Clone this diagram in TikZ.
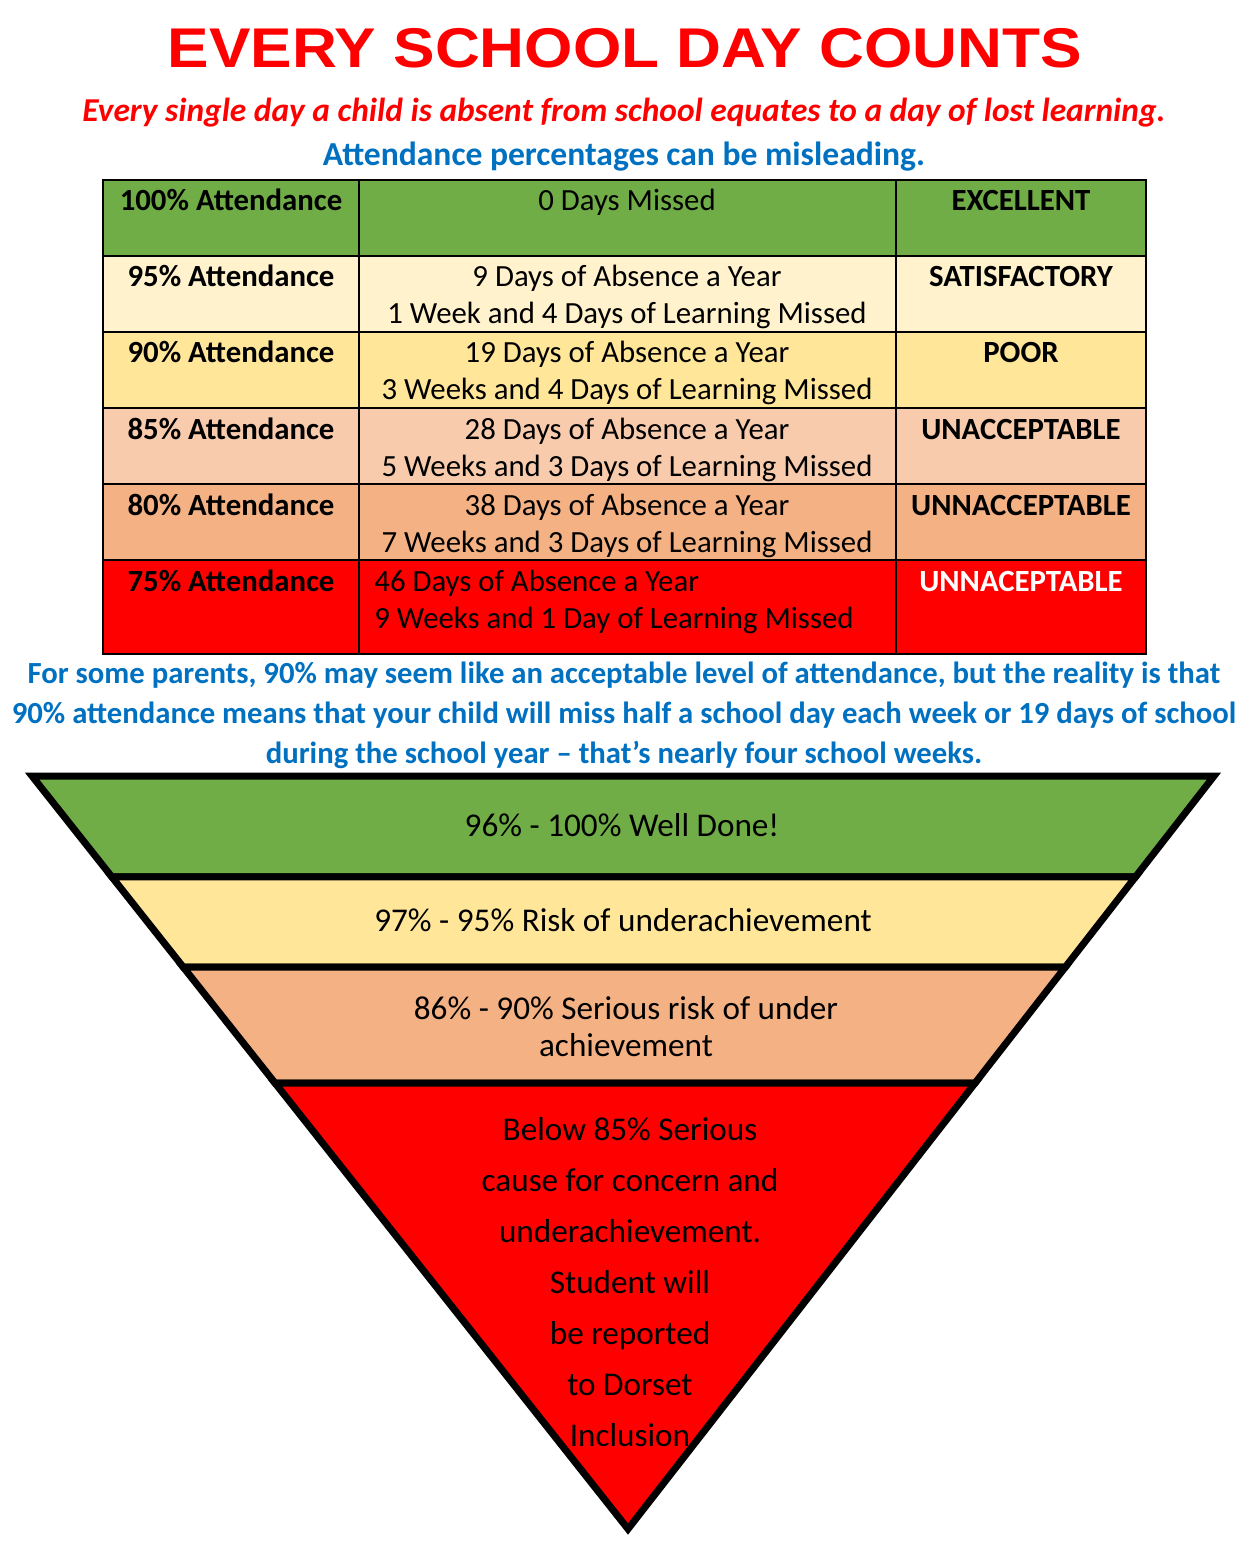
\documentclass[tikz,border=0pt]{standalone}
\usepackage{fontspec}
\setmainfont{Carlito}
\newfontfamily\headfont{Liberation Sans}
\usetikzlibrary{calc,positioning}
\definecolor{hdred}{HTML}{FF0000}
\definecolor{txtblue}{HTML}{0070C0}
\definecolor{rowgreen}{HTML}{70AD47}
\definecolor{rowcream}{HTML}{FFF2CC}
\definecolor{rowyellow}{HTML}{FFE699}
\definecolor{rowpeach}{HTML}{F8CBAD}
\definecolor{roworange}{HTML}{F4B183}
\tikzstyle{cell}=[inner sep=0pt, anchor=base, font=\fontsize{15.4}{18}\selectfont]
\tikzstyle{bcell}=[cell, font=\fontsize{15.4}{18}\selectfont\bfseries]
\tikzstyle{para}=[inner sep=0pt, anchor=base, text=txtblue, font=\fontsize{15.35}{18}\selectfont\bfseries]
\tikzstyle{band}=[draw=black, line width=3.5pt]
\tikzstyle{ptext}=[inner sep=0pt, anchor=base, font=\fontsize{16.6}{20}\selectfont]

\begin{document}
\begin{tikzpicture}[x=0.5pt, y=-0.5pt]
	\useasboundingbox (0,0) rectangle (1250,1551);
	% headings
	\node[inner sep=0pt, anchor=base, text=hdred, font=\headfont\bfseries\fontsize{28}{34}\selectfont] (title) at (625,68) {\scalebox{1.11}[1]{EVERY SCHOOL DAY COUNTS}};
	\node[inner sep=0pt, anchor=base, text=hdred, font=\fontsize{16.7}{20}\selectfont\bfseries\itshape] (sub) at (624,122) {Every single day a child is absent from school equates to a day of lost learning.};
	\node[inner sep=0pt, anchor=base, text=txtblue, font=\fontsize{16.8}{20}\selectfont\bfseries] (mis) at (624,166) {Attendance percentages can be misleading.};
	% table
	\fill[rowgreen] (103,180) rectangle (1146,256);
	\fill[rowcream] (103,256) rectangle (1146,332);
	\fill[rowyellow] (103,332) rectangle (1146,408);
	\fill[rowpeach] (103,408) rectangle (1146,484);
	\fill[roworange] (103,484) rectangle (1146,560);
	\fill[hdred] (103,560) rectangle (1146,654);
	\draw[line width=1pt] (103,180) rectangle (1146,654);
	\foreach \y in {256,332,408,484,560}
		\draw[line width=1pt] (103,\y) -- (1146,\y);
	\draw[line width=1pt] (359,180) -- (359,654);
	\draw[line width=1pt] (896,180) -- (896,654);
	\node[bcell] (a1) at (231,211) {100\% Attendance};
	\node[cell] (b1) at (627,211) {0 Days Missed};
	\node[bcell] (c1) at (1021,211) {EXCELLENT};
	\node[bcell] (a2) at (231,287) {95\% Attendance};
	\node[cell] (b2) at (627,287) {9 Days of Absence a Year};
	\node[cell] (b2x) at (627,324) {1 Week and 4 Days of Learning Missed};
	\node[bcell] (c2) at (1021,287) {SATISFACTORY};
	\node[bcell] (a3) at (231,363) {90\% Attendance};
	\node[cell] (b3) at (627,363) {19 Days of Absence a Year};
	\node[cell] (b3x) at (627,400) {3 Weeks and 4 Days of Learning Missed};
	\node[bcell] (c3) at (1021,363) {POOR};
	\node[bcell] (a4) at (231,439) {85\% Attendance};
	\node[cell] (b4) at (627,439) {28 Days of Absence a Year};
	\node[cell] (b4x) at (627,476) {5 Weeks and 3 Days of Learning Missed};
	\node[bcell] (c4) at (1021,439) {UNACCEPTABLE};
	\node[bcell] (a5) at (231,515) {80\% Attendance};
	\node[cell] (b5) at (627,515) {38 Days of Absence a Year};
	\node[cell] (b5x) at (627,552) {7 Weeks and 3 Days of Learning Missed};
	\node[bcell] (c5) at (1021,515) {UNNACCEPTABLE};
	\node[bcell] (a6) at (231,591) {75\% Attendance};
	\node[cell, anchor=base west] (b6) at (374,591) {46 Days of Absence a Year};
	\node[cell, anchor=base west] (b6x) at (374,628) {9 Weeks and 1 Day of Learning Missed};
	\node[bcell, text=white] (c6) at (1021,591) {UNNACEPTABLE};
	% paragraph
	\node[para] (p1) at (624,683) {For some parents, 90\% may seem like an acceptable level of attendance, but the reality is that};
	\node[para] (p2) at (624,723) {90\% attendance means that your child will miss half a school day each week or 19 days of school};
	\node[para] (p3) at (624,763) {during the school year – that’s nearly four school weeks.};
	% pyramid
	\coordinate (tl) at (32,776);
	\coordinate (tr) at (1214,776);
	\coordinate (ap) at (628,1529);
	\coordinate (l1) at ($(tl)!0.1341!(ap)$);
	\coordinate (r1) at ($(tr)!0.1341!(ap)$);
	\coordinate (l2) at ($(tl)!0.2537!(ap)$);
	\coordinate (r2) at ($(tr)!0.2537!(ap)$);
	\coordinate (l3) at ($(tl)!0.4077!(ap)$);
	\coordinate (r3) at ($(tr)!0.4077!(ap)$);
	\filldraw[band, fill=rowgreen] (tl) -- (tr) -- (r1) -- (l1) -- cycle;
	\filldraw[band, fill=rowyellow] (l1) -- (r1) -- (r2) -- (l2) -- cycle;
	\filldraw[band, fill=roworange] (l2) -- (r2) -- (r3) -- (l3) -- cycle;
	\filldraw[band, fill=hdred] (l3) -- (r3) -- (ap) -- cycle;
	\node[ptext] (g) at (622,836) {96\% - 100\% Well Done!};
	\node[ptext] (y) at (623,931) {97\% - 95\% Risk of underachievement};
	\node[ptext] (o) at (626,1019) {86\% - 90\% Serious risk of under};
	\node[ptext] (ox) at (626,1056) {achievement};
	\foreach \t [count=\i] in {Below 85\% Serious, cause for concern and, underachievement., Student will, be reported, to Dorset, Inclusion}
		\node[ptext] (r\i) at (630,{1140+51*(\i-1)}) {\t};
\end{tikzpicture}
\end{document}
